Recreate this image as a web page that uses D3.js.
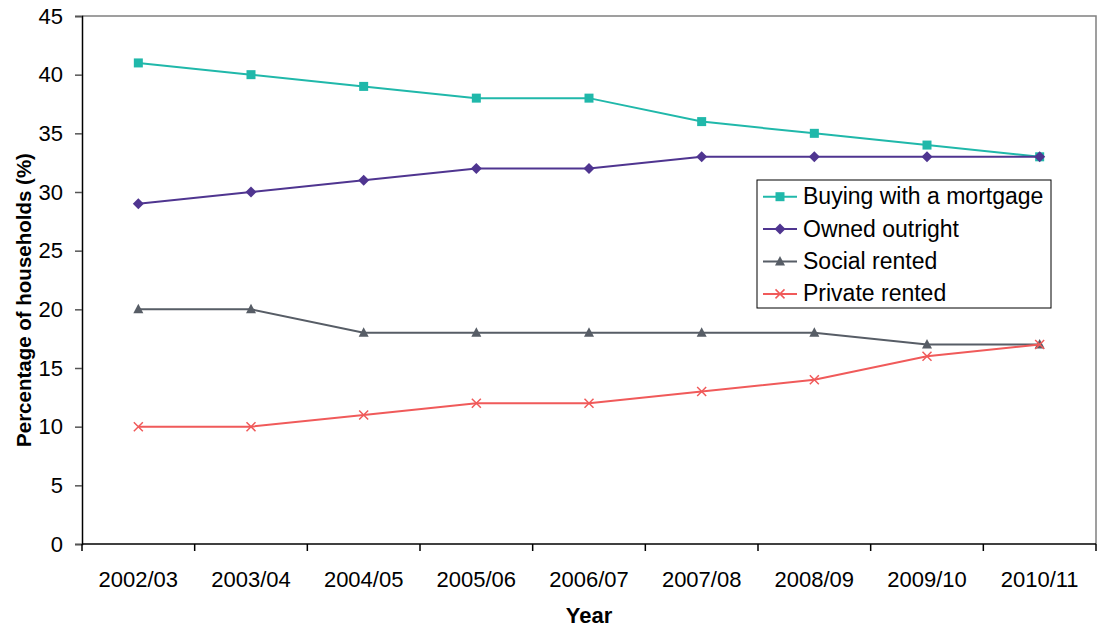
<!DOCTYPE html>
<html><head><meta charset="utf-8">
<script src="https://cdn.jsdelivr.net/npm/d3@7"></script>
<style>body{margin:0;background:#fff;}svg{display:block;font-family:Arial,"Liberation Sans",sans-serif;}</style>
</head><body><svg id="c" width="1097" height="628"></svg>
<script>
const categories = ["2002/03","2003/04","2004/05","2005/06","2006/07","2007/08","2008/09","2009/10","2010/11"];
const mortgage = [41,40,39,38,38,36,35,34,33];
const outright = [29,30,31,32,32,33,33,33,33];
const social = [20,20,18,18,18,18,18,17,17];
const privateRented = [10,10,11,12,12,13,14,16,17];
const yTicks = [0,5,10,15,20,25,30,35,40,45];
const seriesNames = ["Buying with a mortgage","Owned outright","Social rented","Private rented"];

(function(){
const series = [
  {name: seriesNames[0], values: mortgage, color: "#20b8aa", marker: "square"},
  {name: seriesNames[1], values: outright, color: "#4f3590", marker: "diamond"},
  {name: seriesNames[2], values: social, color: "#575d66", marker: "triangle"},
  {name: seriesNames[3], values: privateRented, color: "#f05a5a", marker: "cross"}
];
const FONT = "Arial,'Liberation Sans',sans-serif";
const svg = d3.select("#c");
const pL = 82, pR = 1096, pT = 16, pB = 544;
const x = d3.scaleBand().domain(categories).range([pL, pR]);
const y = d3.scaleLinear().domain([0,45]).range([pB, pT]);

svg.append("path").attr("d", `M${pL},${pT}H${pR}V${pB}`).attr("fill","none").attr("stroke","#808080").attr("stroke-width",1.5);

const yAxis = svg.append("g").attr("transform",`translate(${pL},0)`)
  .call(d3.axisLeft(y).tickValues(yTicks).tickSize(7).tickPadding(12));
yAxis.select(".domain").attr("stroke","#000").attr("stroke-width",1.5);
yAxis.selectAll(".tick line").attr("stroke","#555").attr("stroke-width",1.5);
yAxis.selectAll("text").attr("font-size",22).attr("fill","#000").attr("font-family",FONT);

const xAxis = svg.append("g").attr("transform",`translate(0,${pB})`)
  .call(d3.axisBottom(x).tickSize(0).tickPadding(27));
xAxis.select(".domain").remove();
svg.append("line").attr("x1",pL).attr("x2",pR).attr("y1",pB).attr("y2",pB).attr("stroke","#000").attr("stroke-width",1.5);
const boundaries = categories.map(c => x(c)).concat([pR]);
svg.append("g").selectAll("line").data(boundaries).join("line")
  .attr("x1",d=>d).attr("x2",d=>d).attr("y1",pB).attr("y2",pB+7)
  .attr("stroke","#000").attr("stroke-width",1.5);
xAxis.selectAll("text").attr("font-size",22).attr("fill","#000").attr("font-family",FONT);

svg.append("text").attr("x",(pL+pR)/2).attr("y",623).attr("text-anchor","middle")
  .attr("font-size",22).attr("font-weight","bold").attr("font-family",FONT).text("Year");
svg.append("text").attr("transform",`translate(31,300) rotate(-90)`).attr("text-anchor","middle")
  .attr("font-size",20.5).attr("font-weight","bold").attr("font-family",FONT).text("Percentage of households (%)");

function drawMarker(g, type, color, cx, cy) {
  if (type === "square") {
    g.append("rect").attr("x",cx-4.5).attr("y",cy-4.5).attr("width",9).attr("height",9).attr("fill",color);
  } else if (type === "diamond") {
    g.append("path").attr("d",`M${cx},${cy-5.5}L${cx+5.5},${cy}L${cx},${cy+5.5}L${cx-5.5},${cy}Z`).attr("fill",color);
  } else if (type === "triangle") {
    g.append("path").attr("d",`M${cx},${cy-5.5}L${cx+5},${cy+4}L${cx-5},${cy+4}Z`).attr("fill",color);
  } else {
    g.append("path").attr("d",`M${cx-4.5},${cy-4.5}L${cx+4.5},${cy+4.5}M${cx+4.5},${cy-4.5}L${cx-4.5},${cy+4.5}`)
      .attr("stroke",color).attr("stroke-width",1.5).attr("fill","none");
  }
}

const line = d3.line().x((d,i)=>x(categories[i]) + x.bandwidth()/2).y(d=>y(d));
series.forEach(s => {
  const g = svg.append("g");
  g.append("path").datum(s.values).attr("d",line).attr("fill","none").attr("stroke",s.color).attr("stroke-width",2);
  s.values.forEach((v,i) => drawMarker(g, s.marker, s.color, x(categories[i]) + x.bandwidth()/2, y(v)));
});

const lg = svg.append("g");
lg.append("rect").attr("x",757).attr("y",180).attr("width",294).attr("height",128).attr("fill","#fff").attr("stroke","#000").attr("stroke-width",1);
series.forEach((s,i) => {
  const cy = 196.7 + i*32.4;
  lg.append("line").attr("x1",763).attr("x2",797).attr("y1",cy).attr("y2",cy).attr("stroke",s.color).attr("stroke-width",2);
  drawMarker(lg, s.marker, s.color, 780, cy);
  lg.append("text").attr("x",803).attr("y",cy+7.5).attr("font-size",23).attr("fill","#000").attr("font-family",FONT).text(s.name);
});
})();
</script></body></html>
